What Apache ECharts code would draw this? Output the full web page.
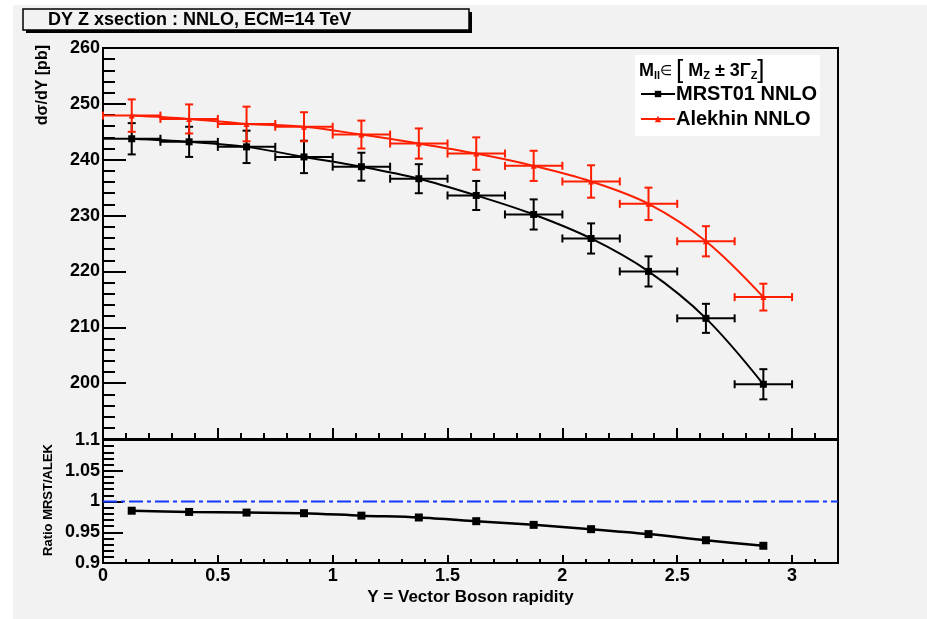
<!DOCTYPE html>
<html>
<head>
<meta charset="utf-8">
<script src="https://cdn.jsdelivr.net/npm/echarts@6/dist/echarts.min.js"></script>
<style>
  html, body { margin: 0; padding: 0; background: #ffffff; }
  #chart { width: 927px; height: 619px; }
</style>
</head>
<body>
<div id="chart"></div>
<script>
// Rapidity bins (centres) and half bin width
const binCenters = [0.125, 0.375, 0.625, 0.875, 1.125, 1.375, 1.625, 1.875, 2.125, 2.375, 2.625, 2.875];
const binHalfWidth = 0.125;

// dsigma/dY [pb] for the two PDF sets, with their uncertainties
const mrstValues    = [243.75, 243.2, 242.3, 240.5, 238.75, 236.6, 233.6, 230.2, 225.9, 220.0, 211.6, 199.8];
const mrstErrors    = [2.8, 2.7, 2.9, 2.9, 2.5, 2.6, 2.6, 2.7, 2.7, 2.7, 2.6, 2.7];
const alekhinValues = [247.9, 247.3, 246.4, 245.9, 244.5, 242.9, 241.1, 238.9, 236.1, 232.1, 225.4, 215.4];
const alekhinErrors = [2.9, 2.6, 3.1, 2.6, 2.5, 2.7, 2.9, 2.7, 2.9, 2.9, 2.7, 2.4];

// Ratio MRST / Alekhin
const ratioValues = [0.985, 0.983, 0.982, 0.981, 0.977, 0.974, 0.968, 0.962, 0.955, 0.947, 0.937, 0.928];
const ratioReference = 1;

// Axis ranges and tick steps
const xRange = [0, 3.2];
const xStep = 0.5;
const yTopRange = [190, 260];
const yTopStep = 10;
const yBottomRange = [0.9, 1.1];
const yBottomStep = 0.05;

const FONT = "'Liberation Sans', Arial, Helvetica, sans-serif";
const RED = '#ff1e00';
const BLACK = '#000000';
const BLUE = '#1238ff';

const fmtNum = v => String(parseFloat(Number(v).toFixed(3)));

function errorBarSeries(name, values, errors, color) {
  return {
    type: 'custom',
    name: name + ' errors',
    xAxisIndex: 0,
    yAxisIndex: 0,
    z: 4,
    silent: true,
    data: binCenters.map((x, i) => [x, values[i], values[i] - errors[i], values[i] + errors[i]]),
    renderItem(params, api) {
      const x = api.value(0), y = api.value(1);
      const lo = api.coord([x, api.value(2)]);
      const hi = api.coord([x, api.value(3)]);
      const l = api.coord([x - binHalfWidth, y]);
      const r = api.coord([x + binHalfWidth, y]);
      const style = { stroke: color, lineWidth: 2 };
      const cap = 4;
      const seg = (x1, y1, x2, y2) => ({ type: 'line', shape: { x1, y1, x2, y2 }, style });
      return {
        type: 'group',
        children: [
          seg(lo[0], lo[1], hi[0], hi[1]),
          seg(lo[0] - cap, lo[1], lo[0] + cap, lo[1]),
          seg(hi[0] - cap, hi[1], hi[0] + cap, hi[1]),
          seg(l[0], l[1], r[0], r[1]),
          seg(l[0], l[1] - cap, l[0], l[1] + cap),
          seg(r[0], r[1] - cap, r[0], r[1] + cap)
        ]
      };
    }
  };
}

const tickLabelStyle = { color: BLACK, fontFamily: FONT, fontSize: 18, fontWeight: 'bold' };

function xAxisCfg(gridIndex, showLabels) {
  return {
    type: 'value',
    gridIndex,
    min: xRange[0],
    max: xRange[1],
    interval: xStep,
    axisLine: { show: true, onZero: false, lineStyle: { color: BLACK, width: 2 } },
    axisTick: { show: true, inside: true, length: showLabels ? 8 : 11, lineStyle: { color: BLACK, width: 2 } },
    minorTick: { show: true, splitNumber: 5, length: showLabels ? 4 : 6, lineStyle: { color: BLACK, width: 2 } },
    splitLine: { show: false },
    minorSplitLine: { show: false },
    axisLabel: {
      show: showLabels,
      margin: 4,
      ...tickLabelStyle,
      showMaxLabel: false,
      formatter: v => (Math.abs(v / xStep - Math.round(v / xStep)) > 1e-6 || v > 3.01) ? '' : fmtNum(v)
    },
    name: showLabels ? 'Y = Vector Boson rapidity' : '',
    nameLocation: 'middle',
    nameGap: 26,
    nameTextStyle: { color: BLACK, fontFamily: FONT, fontSize: 17, fontWeight: 'bold' }
  };
}

const option = {
  animation: false,
  backgroundColor: '#ffffff',
  grid: [
    { left: 103, top: 48, width: 735, height: 391, show: true, borderColor: BLACK, borderWidth: 2, backgroundColor: 'transparent', containLabel: false, outerBoundsMode: 'none' },
    { left: 103, top: 440, width: 735, height: 123, show: true, borderColor: BLACK, borderWidth: 2, backgroundColor: 'transparent', containLabel: false, outerBoundsMode: 'none' }
  ],
  xAxis: [xAxisCfg(0, false), xAxisCfg(1, true)],
  yAxis: [
    {
      type: 'value', gridIndex: 0,
      min: yTopRange[0], max: yTopRange[1], interval: yTopStep,
      axisLine: { show: true, onZero: false, lineStyle: { color: BLACK, width: 2 } },
      axisTick: { show: true, inside: true, length: 23, lineStyle: { color: BLACK, width: 2 } },
      minorTick: { show: true, splitNumber: 5, length: 12, lineStyle: { color: BLACK, width: 2 } },
      splitLine: { show: false },
      axisLabel: { margin: 3, ...tickLabelStyle, formatter: v => (v <= yTopRange[0] ? '' : fmtNum(v)) }
    },
    {
      type: 'value', gridIndex: 1,
      min: yBottomRange[0], max: yBottomRange[1], interval: yBottomStep,
      axisLine: { show: true, onZero: false, lineStyle: { color: BLACK, width: 2 } },
      axisTick: { show: true, inside: true, length: 20, lineStyle: { color: BLACK, width: 2 } },
      minorTick: { show: true, splitNumber: 5, length: 11, lineStyle: { color: BLACK, width: 2 } },
      splitLine: { show: false },
      axisLabel: { margin: 3, ...tickLabelStyle, formatter: v => fmtNum(v) }
    }
  ],
  legend: {
    left: 640,
    top: 84,
    orient: 'vertical',
    itemWidth: 34,
    itemHeight: 8,
    itemGap: 5,
    padding: 0,
    selectedMode: false,
    data: ['MRST01 NNLO', 'Alekhin NNLO'],
    textStyle: { color: BLACK, fontFamily: FONT, fontSize: 20, fontWeight: 'bold', padding: [0, 0, 0, -4] }
  },
  graphic: [
    // canvas fill
    { type: 'rect', z: -10, silent: true, shape: { x: 13, y: 5, width: 914, height: 614 }, style: { fill: '#f2f2f2' } },
    // title pave with shadow
    { type: 'rect', z: 1, silent: true, shape: { x: 26, y: 12, width: 446, height: 21 }, style: { fill: BLACK } },
    { type: 'rect', z: 2, silent: true, shape: { x: 23, y: 9, width: 446, height: 21 }, style: { fill: '#f2f2f2', stroke: BLACK, lineWidth: 1.5 } },
    { type: 'text', z: 3, silent: true, x: 48, y: 20, style: { text: 'DY Z xsection : NNLO, ECM=14 TeV', fill: BLACK, font: 'bold 18px ' + FONT, textVerticalAlign: 'middle' } },
    // legend pave
    { type: 'rect', z: 1, silent: true, shape: { x: 635, y: 55, width: 185, height: 81 }, style: { fill: '#ffffff' } },
    {
      type: 'text', z: 3, silent: true, x: 639, y: 71,
      style: {
        text: '{b|M}{s|ll}{e|\u2208 }{k|[}{b| M}{s|Z}{b| \u00b1 3\u0393}{s|Z}{k|]}',
        textVerticalAlign: 'middle',
        rich: {
          b: { fontFamily: FONT, fontSize: 18, fontWeight: 'bold', fill: BLACK, color: BLACK },
          e: { fontFamily: FONT, fontSize: 14, fill: BLACK, color: BLACK },
          s: { fontFamily: FONT, fontSize: 11, fontWeight: 'bold', fill: BLACK, color: BLACK, padding: [10, 0, 0, 0] },
          k: { fontFamily: FONT, fontSize: 26, fill: BLACK, color: BLACK }
        }
      }
    },
    // pad titles for the y axes
    { type: 'text', z: 3, silent: true, x: 43, y: 45, rotation: Math.PI / 2, style: { text: 'd\u03c3/dY [pb]', fill: BLACK, font: 'bold 16px ' + FONT, textAlign: 'right', textVerticalAlign: 'middle' } },
    { type: 'text', z: 3, silent: true, x: 48, y: 500, rotation: Math.PI / 2, style: { text: 'Ratio MRST/ALEK', fill: BLACK, font: 'bold 13px ' + FONT, textAlign: 'center', textVerticalAlign: 'middle' } }
  ],
  series: [
    {
      type: 'line', name: 'MRST01 NNLO', xAxisIndex: 0, yAxisIndex: 0,
      data: binCenters.map((x, i) => [x, mrstValues[i]]),
      smooth: 0.35, symbol: 'rect', symbolSize: 7, showSymbol: true,
      itemStyle: { color: BLACK }, lineStyle: { color: BLACK, width: 2 }, z: 5
    },
    {
      type: 'line', name: 'Alekhin NNLO', xAxisIndex: 0, yAxisIndex: 0,
      data: binCenters.map((x, i) => [x, alekhinValues[i]]),
      smooth: 0.35, symbol: 'triangle', symbolSize: 6, showSymbol: true,
      itemStyle: { color: RED }, lineStyle: { color: RED, width: 2 }, z: 5
    },
    errorBarSeries('MRST01 NNLO', mrstValues, mrstErrors, BLACK),
    errorBarSeries('Alekhin NNLO', alekhinValues, alekhinErrors, RED),
    {
      type: 'line', name: 'Ratio', xAxisIndex: 1, yAxisIndex: 1,
      data: binCenters.map((x, i) => [x, ratioValues[i]]),
      smooth: 0.3, symbol: 'rect', symbolSize: 8, showSymbol: true,
      itemStyle: { color: BLACK }, lineStyle: { color: BLACK, width: 2.5 }, z: 5
    },
    {
      type: 'line', name: 'Unity', xAxisIndex: 1, yAxisIndex: 1,
      data: [[xRange[0], ratioReference], [xRange[1], ratioReference]],
      symbol: 'none', silent: true,
      lineStyle: { color: BLUE, width: 2, type: [14, 4, 4, 4] }, z: 4
    }
  ]
};

const chart = echarts.init(document.getElementById('chart'), null, { renderer: 'canvas' });
chart.setOption(option);
</script>
</body>
</html>
